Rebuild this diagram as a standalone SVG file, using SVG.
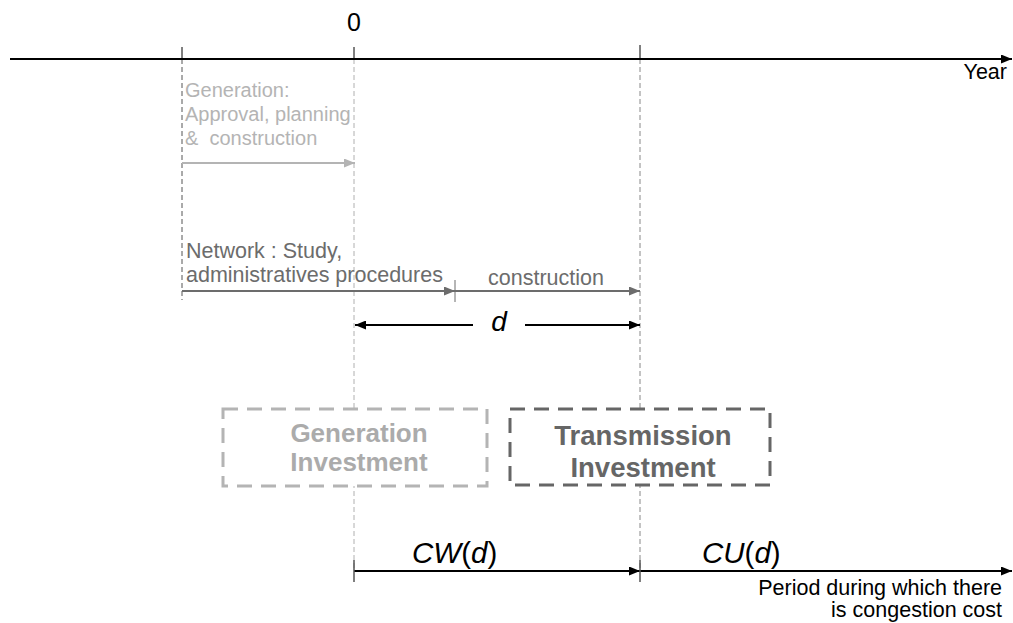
<svg xmlns="http://www.w3.org/2000/svg" width="1013" height="623" viewBox="0 0 1013 623">
<style>
text{font-family:"Liberation Sans",Arial,sans-serif}
.t20{font-size:20px}
.t21{font-size:21.5px}
.light{fill:#b4b4b4}
.mid{fill:#6c6c6c}
.box{font-weight:bold;text-anchor:middle}
.cost{font-size:29.5px}
.vd{fill:none;stroke-width:1;stroke-dasharray:5,3}
</style>
<defs>
<marker id="aBlk" markerUnits="userSpaceOnUse" markerWidth="11" markerHeight="9" refX="11" refY="4.5" orient="auto"><path d="M0,0 L11,4.5 L0,9 z" fill="#000"/></marker>
<marker id="aMid" markerUnits="userSpaceOnUse" markerWidth="11" markerHeight="9" refX="11" refY="4.5" orient="auto"><path d="M0,0 L11,4.5 L0,9 z" fill="#6c6c6c"/></marker>
<marker id="aLight" markerUnits="userSpaceOnUse" markerWidth="11" markerHeight="9" refX="11" refY="4.5" orient="auto"><path d="M0,0 L11,4.5 L0,9 z" fill="#b4b4b4"/></marker>
</defs>
<rect width="1013" height="623" fill="#fff"/>
<g id="connectors">
<line class="vd" x1="182" y1="59" x2="182" y2="300" stroke="#555"/>
<line class="vd" x1="354" y1="59" x2="354" y2="571" stroke="#b0b0b0"/>
<line class="vd" x1="640" y1="59" x2="640" y2="571" stroke="#888"/>
<line x1="10" y1="59" x2="1012" y2="59" stroke="#000" stroke-width="2" marker-end="url(#aBlk)"/>
<line x1="182" y1="47" x2="182" y2="59" stroke="#000" stroke-width="1"/>
<line x1="354" y1="47" x2="354" y2="59" stroke="#000" stroke-width="1"/>
<line x1="640" y1="45" x2="640" y2="59" stroke="#000" stroke-width="1"/>
<line x1="182" y1="163" x2="355" y2="163" stroke="#b4b4b4" stroke-width="2" marker-end="url(#aLight)"/>
<line x1="182" y1="291" x2="455" y2="291" stroke="#6c6c6c" stroke-width="2" marker-end="url(#aMid)"/>
<line x1="455" y1="280" x2="455" y2="302" stroke="#6c6c6c" stroke-width="1"/>
<line x1="455" y1="291" x2="640" y2="291" stroke="#6c6c6c" stroke-width="2" marker-end="url(#aMid)"/>
<line x1="473" y1="325" x2="355" y2="325" stroke="#000" stroke-width="2" marker-end="url(#aBlk)"/>
<line x1="525" y1="325" x2="640" y2="325" stroke="#000" stroke-width="2" marker-end="url(#aBlk)"/>
<line x1="354" y1="571" x2="640" y2="571" stroke="#000" stroke-width="2" marker-end="url(#aBlk)"/>
<line x1="640" y1="571" x2="1012" y2="571" stroke="#000" stroke-width="2" marker-end="url(#aBlk)"/>
<line x1="354" y1="560" x2="354" y2="582" stroke="#555" stroke-width="1.5"/>
<line x1="640" y1="560" x2="640" y2="582" stroke="#555" stroke-width="1.5"/>
</g>
<g id="axis-labels">
<text x="354" y="31" font-size="25" text-anchor="middle">0</text>
<text x="1007" y="79" class="t21" text-anchor="end">Year</text>
</g>
<g id="generation-phase">
<text class="t20 light" x="185" y="97">Generation:</text>
<text class="t20 light" x="185" y="121">Approval, planning</text>
<text class="t20 light" x="185" y="145" xml:space="preserve">&amp;  construction</text>
</g>
<g id="network-phase">
<text class="t21 mid" x="186" y="258">Network : Study,</text>
<text class="t21 mid" x="186" y="282">administratives procedures</text>
<text class="t21 mid" x="546" y="285" text-anchor="middle">construction</text>
</g>
<g id="d-label">
<text x="499" y="331" font-size="28" font-style="italic" text-anchor="middle">d</text>
</g>
<g id="generation-investment">
<rect x="223" y="409" width="264" height="77" fill="#fff" stroke="#b4b4b4" stroke-width="3" stroke-dasharray="15,9"/>
<text class="box" x="359" y="442" font-size="26" fill="#ababab">Generation</text>
<text class="box" x="359" y="471" font-size="26" fill="#ababab">Investment</text>
</g>
<g id="transmission-investment">
<rect x="510" y="409" width="260" height="76" fill="#fff" stroke="#666" stroke-width="3" stroke-dasharray="15,9"/>
<text class="box" x="643" y="445" font-size="27.5" fill="#666">Transmission</text>
<text class="box" x="643" y="477" font-size="27.5" fill="#666">Investment</text>
</g>
<g id="cost-labels">
<text class="cost" x="412" y="563"><tspan font-style="italic">CW</tspan>(<tspan font-style="italic">d</tspan>)</text>
<text class="cost" x="702" y="563"><tspan font-style="italic">CU</tspan>(<tspan font-style="italic">d</tspan>)</text>
<text class="t21" x="1002" y="595" text-anchor="end">Period during which there</text>
<text class="t21" x="1002" y="617" text-anchor="end">is congestion cost</text>
</g>
</svg>
